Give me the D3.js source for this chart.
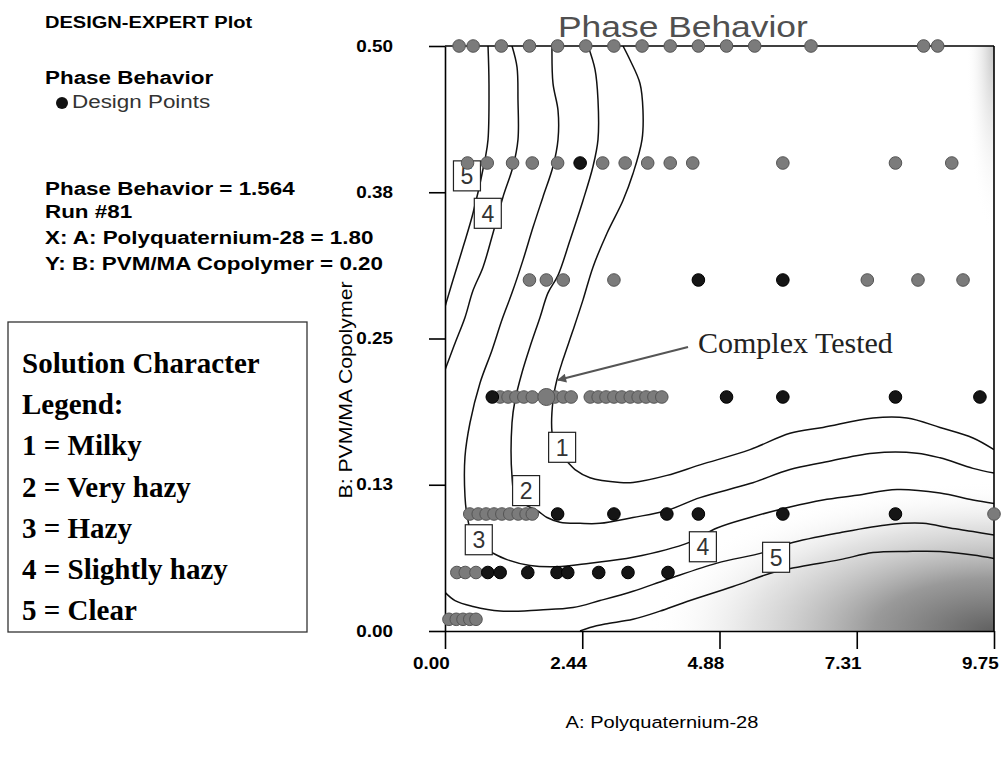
<!DOCTYPE html>
<html>
<head>
<meta charset="utf-8">
<script src="https://cdn.jsdelivr.net/npm/d3@7"></script>
<style>
  body { margin: 0; background: #fff; }
  svg { display: block; }
</style>
</head>
<body>
<div id="chart"></div>
<script>
// axis ticks
const xTicks = [0, 2.4375, 4.875, 7.3125, 9.75];
const xTickLabels = ["0.00", "2.44", "4.88", "7.31", "9.75"];
const yTicks = [0, 0.125, 0.25, 0.375, 0.5];
const yTickLabels = ["0.00", "0.13", "0.25", "0.38", "0.50"];

// contour lines (A: Polyquaternium-28, B: PVM/MA Copolymer)
const contour5a = [[0.764,0.5],[0.781,0.468],[0.764,0.42],[0.71,0.403],[0.497,0.357],[0.32,0.328],[0.142,0.3],[0.018,0.28],[0,0.277]];
const contour4a = [[1.19,0.5],[1.279,0.482],[1.296,0.454],[1.296,0.42],[1.208,0.397],[1.03,0.371],[0.852,0.34],[0.675,0.311],[0.497,0.291],[0.355,0.268],[0.178,0.246],[0.053,0.23],[0,0.223]];
const contour3 = [[1.9,0.5],[1.918,0.468],[2.007,0.445],[2.007,0.42],[1.918,0.397],[1.74,0.371],[1.563,0.345],[1.385,0.317],[1.19,0.289],[1.012,0.266],[0.835,0.24],[0.622,0.212],[0.444,0.178],[0.355,0.149],[0.355,0.115],[0.391,0.099],[0.48,0.082],[0.622,0.073],[0.835,0.067],[1.101,0.061],[1.51,0.056],[1.989,0.055],[2.575,0.058],[3.339,0.063],[4.351,0.076],[4.831,0.088],[5.417,0.097],[6.127,0.106],[6.713,0.112],[7.317,0.116],[8.028,0.121],[8.791,0.118],[9.377,0.112],[9.75,0.109]];
const contour2 = [[2.54,0.5],[2.664,0.48],[2.717,0.454],[2.717,0.42],[2.628,0.397],[2.451,0.368],[2.22,0.334],[2.007,0.304],[1.829,0.289],[1.687,0.268],[1.51,0.243],[1.368,0.221],[1.243,0.197],[1.19,0.178],[1.19,0.132],[1.243,0.116],[1.421,0.108],[1.634,0.103],[1.812,0.097],[2.042,0.093],[2.398,0.092],[2.753,0.092],[3.339,0.097],[3.943,0.103],[4.529,0.114],[5.417,0.126],[6.127,0.138],[6.713,0.144],[7.601,0.152],[8.383,0.152],[8.791,0.148],[9.377,0.139],[9.75,0.135]];
const contour1 = [[3.161,0.5],[3.286,0.488],[3.463,0.468],[3.516,0.445],[3.499,0.42],[3.339,0.391],[3.161,0.368],[2.877,0.34],[2.628,0.311],[2.451,0.283],[2.273,0.257],[2.096,0.232],[1.989,0.215],[1.918,0.197],[1.9,0.17],[1.971,0.155],[2.184,0.144],[2.309,0.138],[2.575,0.131],[3.108,0.127],[3.339,0.127],[3.943,0.133],[4.529,0.142],[5.417,0.155],[6.127,0.169],[6.713,0.174],[7.601,0.182],[8.205,0.182],[8.791,0.174],[9.377,0.165],[9.75,0.155]];
const contour4b = [[0,0.033],[0.178,0.026],[0.497,0.021],[0.977,0.017],[1.687,0.018],[2.273,0.02],[2.753,0.026],[3.339,0.034],[3.943,0.044],[4.831,0.058],[5.648,0.067],[6.127,0.075],[7.015,0.084],[7.903,0.091],[8.489,0.092],[8.969,0.088],[9.377,0.085],[9.75,0.082]];
const contour5b = [[2.398,0],[2.575,0.003],[2.842,0.006],[3.339,0.01],[3.818,0.017],[4.227,0.024],[5.115,0.038],[5.825,0.05],[6.305,0.055],[7.015,0.061],[7.601,0.067],[8.205,0.068],[8.791,0.068],[9.377,0.065],[9.75,0.062]];

// contour label anchors: [A, B, level]
const contourLabels = [[0.39,0.389,"5"],[0.76,0.357,"4"],[2.08,0.157,"1"],[1.44,0.12,"2"],[0.6,0.078,"3"],[4.58,0.072,"4"],[5.88,0.063,"5"]];

// design points, by row of B
const grayPoints = [
  [0.25,0.5],[0.5,0.5],[1.0,0.5],[1.5,0.5],[2.0,0.5],[2.5,0.5],[3.0,0.5],[3.5,0.5],[4.0,0.5],[4.5,0.5],[5.0,0.5],[5.5,0.5],[6.5,0.5],[8.5,0.5],[8.75,0.5],
  [0.4,0.4],[0.75,0.4],[1.2,0.4],[1.55,0.4],[2.0,0.4],[2.8,0.4],[3.2,0.4],[3.6,0.4],[4.0,0.4],[4.4,0.4],[6.0,0.4],[8.0,0.4],[9.0,0.4],
  [1.5,0.3],[1.8,0.3],[2.1,0.3],[3.0,0.3],[7.5,0.3],[8.4,0.3],[9.2,0.3],
  [0.98,0.2],[1.12,0.2],[1.26,0.2],[1.4,0.2],[1.55,0.2],[1.95,0.2],[2.1,0.2],[2.24,0.2],
  [2.58,0.2],[2.72,0.2],[2.86,0.2],[3.0,0.2],[3.14,0.2],[3.29,0.2],[3.43,0.2],[3.57,0.2],[3.71,0.2],[3.85,0.2],
  [0.44,0.1],[0.59,0.1],[0.73,0.1],[0.87,0.1],[1.01,0.1],[1.15,0.1],[1.3,0.1],[1.44,0.1],[1.55,0.1],[9.75,0.1],
  [0.21,0.05],[0.36,0.05],[0.55,0.05],
  [0.07,0.01],[0.2,0.01],[0.32,0.01],[0.44,0.01],[0.55,0.01]
];
const blackPoints = [
  [2.4,0.4],
  [4.5,0.3],[6.0,0.3],
  [0.84,0.2],[5.0,0.2],[6.0,0.2],[8.0,0.2],[9.5,0.2],
  [2.0,0.1],[3.0,0.1],[3.94,0.1],[4.5,0.1],[6.0,0.1],[8.0,0.1],
  [0.76,0.05],[0.98,0.05],[1.47,0.05],[1.99,0.05],[2.18,0.05],[2.73,0.05],[3.25,0.05],[3.96,0.05]
];
const complexPoint = [1.8, 0.2];
const arrowFrom = [4.316, 0.2427], arrowTo = [2.007, 0.2145];

const infoLines = ["DESIGN-EXPERT Plot", "Phase Behavior", "Design Points", "Phase Behavior = 1.564",
                   "Run #81", "X: A: Polyquaternium-28 = 1.80", "Y: B: PVM/MA Copolymer = 0.20"];
const legendLines = ["Solution Character", "Legend:", "1 = Milky", "2 = Very hazy", "3 = Hazy", "4 = Slightly hazy", "5 = Clear"];

const width = 1001, height = 757;
const sans = "'Liberation Sans', Arial, sans-serif",
      serif = "'Liberation Serif', 'Times New Roman', serif",
      sx = 1.18;

let x = d3.scaleLinear().domain([0, 9.75]).range([445, 994]),
    y = d3.scaleLinear().domain([0, 0.5]).range([631, 46]);

const svg = d3.select("#chart").append("svg")
  .attr("width", width).attr("height", height);

const defs = svg.append("defs");
defs.append("clipPath").attr("id", "plot")
  .append("rect").attr("x", x(0)).attr("y", y(0.5))
  .attr("width", x(9.75) - x(0)).attr("height", y(0) - y(0.5));

const shade = defs.append("radialGradient").attr("id", "shade")
  .attr("gradientUnits", "userSpaceOnUse").attr("cx", 0).attr("cy", 0).attr("r", 1)
  .attr("gradientTransform", `translate(${x(9.75)},${y(0)}) scale(345,150)`);
[[0, "#606060", 1], [0.35, "#8e8e8e", 0.9], [0.7, "#cfcfcf", 0.6], [1, "#ffffff", 0]].forEach(s =>
  shade.append("stop").attr("offset", s[0]).attr("stop-color", s[1]).attr("stop-opacity", s[2]));

const edge = defs.append("radialGradient").attr("id", "edge")
  .attr("gradientUnits", "userSpaceOnUse").attr("cx", 0).attr("cy", 0).attr("r", 1)
  .attr("gradientTransform", `translate(${x(9.75)},${y(0.5)}) scale(28,190)`);
[[0, "#bdbdbd", 0.9], [1, "#ffffff", 0]].forEach(s =>
  edge.append("stop").attr("offset", s[0]).attr("stop-color", s[1]).attr("stop-opacity", s[2]));

defs.append("marker").attr("id", "arrow")
  .attr("viewBox", "0 0 10 10").attr("refX", 9).attr("refY", 5)
  .attr("markerWidth", 13).attr("markerHeight", 9).attr("markerUnits", "userSpaceOnUse")
  .attr("orient", "auto")
  .append("path").attr("d", "M0,0L10,5L0,10z").attr("fill", "#555");

// shading
const plot = svg.append("g").attr("clip-path", "url(#plot)");
plot.append("rect").attr("x", x(0)).attr("y", y(0.5))
  .attr("width", x(9.75) - x(0)).attr("height", y(0) - y(0.5)).attr("fill", "url(#shade)");
plot.append("rect").attr("x", x(0)).attr("y", y(0.5))
  .attr("width", x(9.75) - x(0)).attr("height", y(0) - y(0.5)).attr("fill", "url(#edge)");

// contours
const line = d3.line().x(d => x(d[0])).y(d => y(d[1])).curve(d3.curveCatmullRom.alpha(0.5));
plot.selectAll("path.contour")
  .data([contour5a, contour4a, contour3, contour2, contour1, contour4b, contour5b])
  .enter().append("path").attr("class", "contour")
  .attr("d", line).attr("fill", "none").attr("stroke", "#111").attr("stroke-width", 1.5);

// contour labels
const lab = svg.append("g").selectAll("g").data(contourLabels).enter().append("g")
  .attr("transform", d => `translate(${x(d[0])},${y(d[1])})`);
lab.append("rect").attr("x", -13.5).attr("y", -15).attr("width", 27).attr("height", 30)
  .attr("fill", "#fff").attr("stroke", "#222").attr("stroke-width", 1.2);
lab.append("text").attr("text-anchor", "middle").attr("y", 8.5)
  .attr("font-family", sans).attr("font-size", 23).attr("fill", "#333").text(d => d[2]);

// axes
const xAxis = d3.axisBottom(x).tickValues(xTicks).tickFormat((d, i) => xTickLabels[i])
  .tickSize(18).tickSizeOuter(0);
const yAxis = d3.axisLeft(y).tickValues(yTicks).tickFormat((d, i) => yTickLabels[i])
  .tickSize(16).tickSizeOuter(0);

const gx = svg.append("g").attr("transform", `translate(0,${y(0)})`).call(xAxis);
const gy = svg.append("g").attr("transform", `translate(${x(0)},0)`).call(yAxis);
[gx, gy].forEach(g => {
  g.select(".domain").attr("stroke", "#000").attr("stroke-width", 1.6);
  g.selectAll(".tick line").attr("stroke", "#000").attr("stroke-width", 1.6);
  g.selectAll(".tick text").attr("font-family", sans).attr("font-size", 16)
    .attr("font-weight", "bold").attr("fill", "#000").attr("transform", `scale(${sx},1)`);
});
gx.selectAll(".tick text").attr("y", 27).attr("x", -12);
gy.selectAll(".tick text").attr("x", -52 / sx);

// frame top / right
svg.append("line").attr("x1", x(0)).attr("x2", x(9.75)).attr("y1", y(0.5)).attr("y2", y(0.5))
  .attr("stroke", "#000").attr("stroke-width", 1.6);
svg.append("line").attr("x1", x(9.75)).attr("x2", x(9.75)).attr("y1", y(0.5)).attr("y2", y(0))
  .attr("stroke", "#000").attr("stroke-width", 1.6);

// axis titles
svg.append("text").attr("transform", `translate(662,728) scale(${sx},1)`)
  .attr("text-anchor", "middle").attr("font-family", sans).attr("font-size", 17)
  .attr("fill", "#000").text("A: Polyquaternium-28");
svg.append("text").attr("transform", `translate(352,390) rotate(-90) scale(${sx},1)`)
  .attr("text-anchor", "middle").attr("font-family", sans).attr("font-size", 18)
  .attr("fill", "#000").text("B: PVM/MA Copolymer");

// design points
const pts = svg.append("g");
pts.selectAll("circle.g").data(grayPoints).enter().append("circle")
  .attr("cx", d => x(d[0])).attr("cy", d => y(d[1])).attr("r", 6.3)
  .attr("fill", "#7b7b7b").attr("stroke", "#555").attr("stroke-width", 1);
pts.selectAll("circle.b").data(blackPoints).enter().append("circle")
  .attr("cx", d => x(d[0])).attr("cy", d => y(d[1])).attr("r", 6.3)
  .attr("fill", "#151515").attr("stroke", "#000").attr("stroke-width", 1);
pts.append("circle").attr("cx", x(complexPoint[0])).attr("cy", y(complexPoint[1])).attr("r", 8.5)
  .attr("fill", "#7b7b7b").attr("stroke", "#555").attr("stroke-width", 1);

// annotation
svg.append("line").attr("x1", x(arrowFrom[0])).attr("y1", y(arrowFrom[1]))
  .attr("x2", x(arrowTo[0])).attr("y2", y(arrowTo[1]))
  .attr("stroke", "#555").attr("stroke-width", 2.2).attr("marker-end", "url(#arrow)");
svg.append("text").attr("x", 698).attr("y", 353).attr("font-family", serif).attr("font-size", 30)
  .attr("fill", "#222").text("Complex Tested");

// title
svg.append("text").attr("transform", `translate(558,37) scale(${sx},1)`)
  .attr("font-family", sans).attr("font-size", 30).attr("fill", "#505050").text("Phase Behavior");

// info panel
const infoY = [28, 84, 108, 195, 218, 244, 270];
const info = svg.append("g").attr("transform", `translate(45,0) scale(${sx},1)`);
info.selectAll("text").data(infoLines).enter().append("text")
  .attr("x", (d, i) => i === 2 ? (72 - 45) / sx : 0)
  .attr("y", (d, i) => infoY[i])
  .attr("font-family", sans).attr("font-size", (d, i) => i === 0 ? 17 : 19)
  .attr("font-weight", (d, i) => i === 2 ? "normal" : "bold")
  .attr("fill", (d, i) => i === 2 ? "#333" : "#000")
  .text(d => d);
svg.append("circle").attr("cx", 62).attr("cy", 103).attr("r", 6).attr("fill", "#111");

// legend box
svg.append("rect").attr("x", 8).attr("y", 322).attr("width", 299).attr("height", 310)
  .attr("fill", "#fff").attr("stroke", "#333").attr("stroke-width", 1.3);
svg.append("g").selectAll("text").data(legendLines).enter().append("text")
  .attr("x", 22).attr("y", (d, i) => 373 + i * 41.2)
  .attr("font-family", serif).attr("font-size", 29).attr("font-weight", "bold")
  .attr("fill", "#000").text(d => d);
</script>
</body>
</html>
